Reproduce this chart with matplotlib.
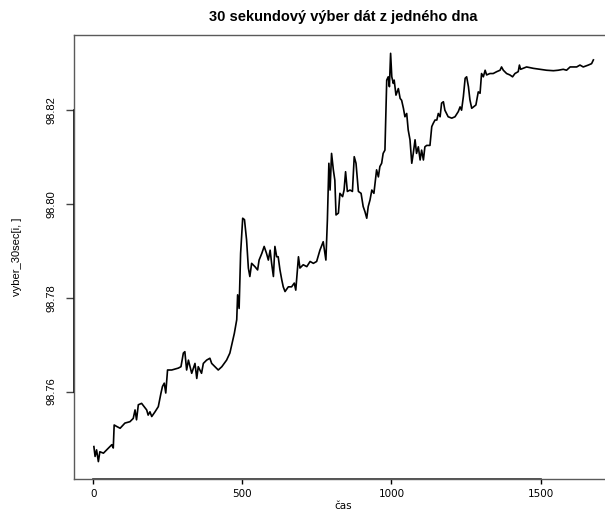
import matplotlib
matplotlib.use('Agg')
import matplotlib.pyplot as plt

# 30-second samples of one trading day: sample index and price
sample_idx = [
    2, 6, 11, 17, 22, 34, 45, 62, 67, 70, 78, 90, 106, 123, 134, 140, 145, 151,
    162, 179, 184, 190, 196, 207, 218, 227, 232, 238, 243, 249, 263, 285, 294,
    302, 307, 313, 319, 330, 341, 347, 352, 363, 369, 380, 391, 397, 408, 419,
    431, 447, 458, 464, 473, 481, 484, 489, 494, 501, 507, 514, 520, 525, 531,
    542, 551, 556, 565, 573, 581, 587, 593, 598, 604, 609, 615, 620, 626, 632,
    637, 643, 654, 665, 674, 679, 688, 693, 704, 716, 727, 738, 749, 760, 771,
    777, 780, 785, 790, 794, 799, 805, 810, 814, 822, 827, 836, 841, 846, 852,
    861, 869, 875, 881, 889, 898, 905, 911, 917, 922, 928, 934, 941, 950, 956,
    961, 967, 972, 978, 984, 989, 993, 997, 1001, 1006, 1009, 1015, 1023, 1029,
    1034, 1040, 1045, 1051, 1056, 1062, 1068, 1073, 1079, 1084, 1090, 1096,
    1101, 1107, 1112, 1118, 1129, 1135, 1140, 1146, 1152, 1157, 1163, 1168,
    1174, 1179, 1190, 1202, 1213, 1224, 1230, 1235, 1241, 1247, 1252, 1258,
    1263, 1269, 1275, 1283, 1291, 1297, 1302, 1308, 1314, 1319, 1330, 1341,
    1353, 1364, 1369, 1375, 1386, 1397, 1406, 1414, 1425, 1429, 1433, 1453,
    1476, 1498, 1520, 1543, 1559, 1576, 1587, 1599, 1621, 1632, 1643, 1660,
    1671, 1677,
]
price = [
    98.7483, 98.7462, 98.7476, 98.7451, 98.7472, 98.7469, 98.7476, 98.7487,
    98.7480, 98.7529, 98.7526, 98.7522, 98.7533, 98.7536, 98.7543, 98.7561,
    98.7540, 98.7572, 98.7575, 98.7561, 98.7550, 98.7557, 98.7547, 98.7557,
    98.7568, 98.7597, 98.7611, 98.7618, 98.7597, 98.7646, 98.7646, 98.7650,
    98.7653, 98.7682, 98.7685, 98.7646, 98.7667, 98.7639, 98.7660, 98.7628,
    98.7653, 98.7639, 98.7660, 98.7667, 98.7671, 98.7660, 98.7653, 98.7646,
    98.7653, 98.7667, 98.7682, 98.7699, 98.7724, 98.7753, 98.7806, 98.7777,
    98.7894, 98.7969, 98.7966, 98.7923, 98.7863, 98.7845, 98.7873, 98.7866,
    98.7859, 98.7880, 98.7894, 98.7909, 98.7894, 98.7880, 98.7901, 98.7873,
    98.7845, 98.7909, 98.7887, 98.7887, 98.7859, 98.7838, 98.7823, 98.7813,
    98.7823, 98.7823, 98.7831, 98.7816, 98.7887, 98.7863, 98.7870, 98.7866,
    98.7877, 98.7873, 98.7877, 98.7901, 98.7919, 98.7894, 98.7880, 98.7965,
    98.8086, 98.8029, 98.8107, 98.8072, 98.8050, 98.7976, 98.7980, 98.8022,
    98.8015, 98.8029, 98.8068, 98.8026, 98.8029, 98.8026, 98.8100, 98.8086,
    98.8026, 98.8022, 98.7994, 98.7983, 98.7969, 98.7994, 98.8008, 98.8029,
    98.8022, 98.8072, 98.8057, 98.8079, 98.8086, 98.8107, 98.8114, 98.8263,
    98.8270, 98.8249, 98.8320, 98.8270, 98.8256, 98.8263, 98.8231, 98.8245,
    98.8224, 98.8220, 98.8203, 98.8185, 98.8192, 98.8157, 98.8136, 98.8086,
    98.8107, 98.8136, 98.8107, 98.8121, 98.8093, 98.8114, 98.8093, 98.8121,
    98.8124, 98.8124, 98.8164, 98.8171, 98.8178, 98.8178, 98.8192, 98.8185,
    98.8214, 98.8217, 98.8199, 98.8185, 98.8182, 98.8185, 98.8196, 98.8206,
    98.8199, 98.8228, 98.8267, 98.8270, 98.8249, 98.8221, 98.8203, 98.8206,
    98.8210, 98.8238, 98.8235, 98.8277, 98.8270, 98.8284, 98.8274, 98.8277,
    98.8277, 98.8281, 98.8284, 98.8291, 98.8284, 98.8277, 98.8274, 98.8270,
    98.8277, 98.8281, 98.8295, 98.8286, 98.8291, 98.8288, 98.8286, 98.8284,
    98.8283, 98.8284, 98.8286, 98.8284, 98.8291, 98.8291, 98.8295, 98.8291,
    98.8295, 98.8298, 98.8306,
]

x_ticks = [0, 500, 1000, 1500]
y_ticks = [98.76, 98.78, 98.80, 98.82]
y_tick_labels = ['98.76', '98.78', '98.80', '98.82']

title = '30 sekundový výber dát z jedného dna'
x_label = 'čas'
y_label = 'vyber_30sec[i, ]'

narrow = ['Liberation Sans Narrow', 'Liberation Sans']

W, H = 605, 513
fig = plt.figure(figsize=(W / 100, H / 100), dpi=100)

# plot region in pixels (right edge runs past the figure)
left, right, top, bottom = 74, 613, 35, 479
ax = fig.add_axes([left / W, (H - bottom) / H, (right - left) / W, (bottom - top) / H])

ax.plot(sample_idx, price, color='black', linewidth=1.2)

ax.set_xlim(-64.7, 1742.8)
ax.set_ylim(98.7414, 98.8359)

for s in ax.spines.values():
    s.set_color('#5a5a5a')
    s.set_linewidth(1.0)

# axis lines spanning the tick range
ylo = ax.get_ylim()[0]
xlo = ax.get_xlim()[0]
ax.plot([x_ticks[0], x_ticks[-1]], [ylo, ylo], color='#333333', lw=1.2, clip_on=False)
ax.plot([xlo, xlo], [y_ticks[0], y_ticks[-1]], color='black', lw=1.2, clip_on=False)

ax.set_xticks(x_ticks)
ax.set_xticklabels([str(v) for v in x_ticks], family='DejaVu Sans', fontsize=7.5)
ax.tick_params(axis='x', direction='out', length=3.5, width=1, color='black', pad=4)

ax.set_yticks(y_ticks)
ax.set_yticklabels(y_tick_labels, family=narrow, fontsize=8, rotation=90, va='center')
ax.tick_params(axis='y', direction='out', length=5.5, width=1, color='#444444', pad=7)

fig.text((left + right) / 2 / W, 1 - 17 / H, title, ha='center', va='center',
         fontsize=10.5, fontweight='bold', family='Liberation Sans')
fig.text((left + right) / 2 / W, 1 - 506 / H, x_label, ha='center', va='center',
         fontsize=7.5, family='DejaVu Sans')
fig.text(17 / W, 1 - (top + bottom) / 2 / H, y_label, ha='center', va='center',
         rotation=90, fontsize=8, family=narrow)

fig.savefig('out.png', dpi=100)
